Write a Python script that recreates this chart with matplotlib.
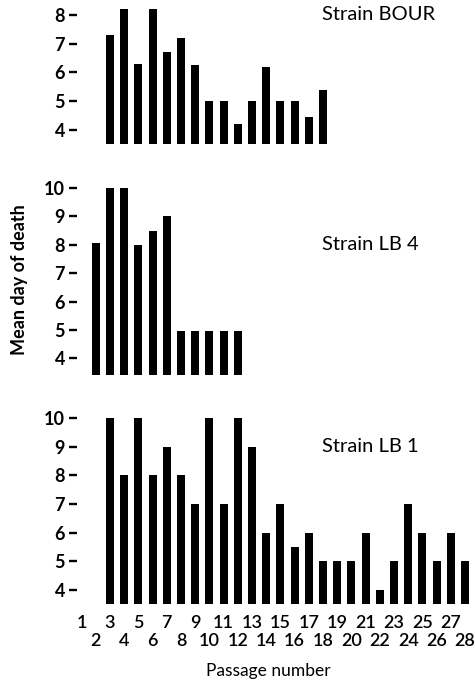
import matplotlib
matplotlib.use("Agg")
import matplotlib.pyplot as plt
import numpy as np

plt.rcParams['font.family'] = ['Lato', 'DejaVu Sans']

# Mean day of death per passage
bour_passage = list(range(3, 19))
bour_days = [7.3, 8.2, 6.3, 8.2, 6.7, 7.2, 6.25, 5.0, 5.0, 4.2, 5.0, 6.2, 5.0, 5.0, 4.45, 5.4]

lb4_passage = list(range(2, 13))
lb4_days = [8.05, 10.0, 10.0, 8.0, 8.5, 9.0, 4.95, 4.95, 4.95, 4.95, 4.95]

lb1_passage = list(range(3, 29))
lb1_days = [10, 8, 10, 8, 9, 8, 7, 10, 7, 10, 9, 6, 7, 5.5, 6,
            5, 5, 5, 6, 4, 5, 7, 6, 5, 6, 5]

passage_ticks = list(range(1, 29))

W, H = 475, 682
fig = plt.figure(figsize=(W / 100, H / 100), dpi=100)


def px_axes(left, top, right, bottom):
    return fig.add_axes([left / W, 1 - bottom / H, (right - left) / W, (bottom - top) / H])


xlim = (0.7, 28.6)
x_left = 110 - 2.3 * 14.2
x_right = 110 + 25.6 * 14.2

panels = [
    # passages, values, baseline, ylim, yticks, top px, bottom px, label, label y
    (bour_passage, bour_days, 3.5, (3.5, 8.3), range(4, 9), 6.4, 144.0, "Strain BOUR", 8.0),
    (lb4_passage, lb4_days, 3.4, (3.4, 10.1), range(4, 11), 185.2, 375.4, "Strain LB 4", 8.0),
    (lb1_passage, lb1_days, 3.45, (3.5, 10.1), range(4, 11), 415.1, 604.4, "Strain LB 1", 9.0),
]

axes = []
for passages, days, base, ylim, yticks, top, bottom, name, ly in panels:
    ax = px_axes(x_left, top, x_right, bottom)
    days = np.array(days, dtype=float)
    ax.bar(passages, days - base, bottom=base, width=0.56, color="black")
    ax.set_xlim(*xlim)
    ax.set_ylim(*ylim)
    for s in ax.spines.values():
        s.set_visible(False)
    ax.set_yticks(list(yticks))
    ax.tick_params(axis="y", direction="out", length=6, width=1.7, pad=3,
                   labelsize=13)
    for lab in ax.get_yticklabels():
        lab.set_fontweight("bold")
    ax.set_xticks([])
    ax.text(17.95, ly, name, fontsize=14.5, ha="left", va="center")
    axes.append(ax)

ax = axes[-1]
odd = [p for p in passage_ticks if p % 2 == 1]
even = [p for p in passage_ticks if p % 2 == 0]
ax.set_xticks(odd)
ax.set_xticklabels([str(p) for p in odd])
ax.set_xticks(even, minor=True)
ax.set_xticklabels([str(p) for p in even], minor=True)
ax.tick_params(axis="x", which="major", length=0, pad=7.5, labelsize=13)
ax.tick_params(axis="x", which="minor", length=0, pad=20.5, labelsize=13)
for lab in ax.get_xticklabels() + ax.get_xticklabels(minor=True):
    lab.set_fontweight("semibold")
ax.set_xlabel("Passage number", fontsize=12.5)
ax.xaxis.set_label_coords((268 - x_left) / (x_right - x_left), -(671 - 604.4) / (604.4 - 415.1))
ax.xaxis.label.set_va("center")

fig.text(20 / W, 1 - 280 / H, "Mean day of death", rotation=90, fontsize=13,
         fontweight="bold", ha="center", va="center")

fig.savefig("out.png", dpi=100)
